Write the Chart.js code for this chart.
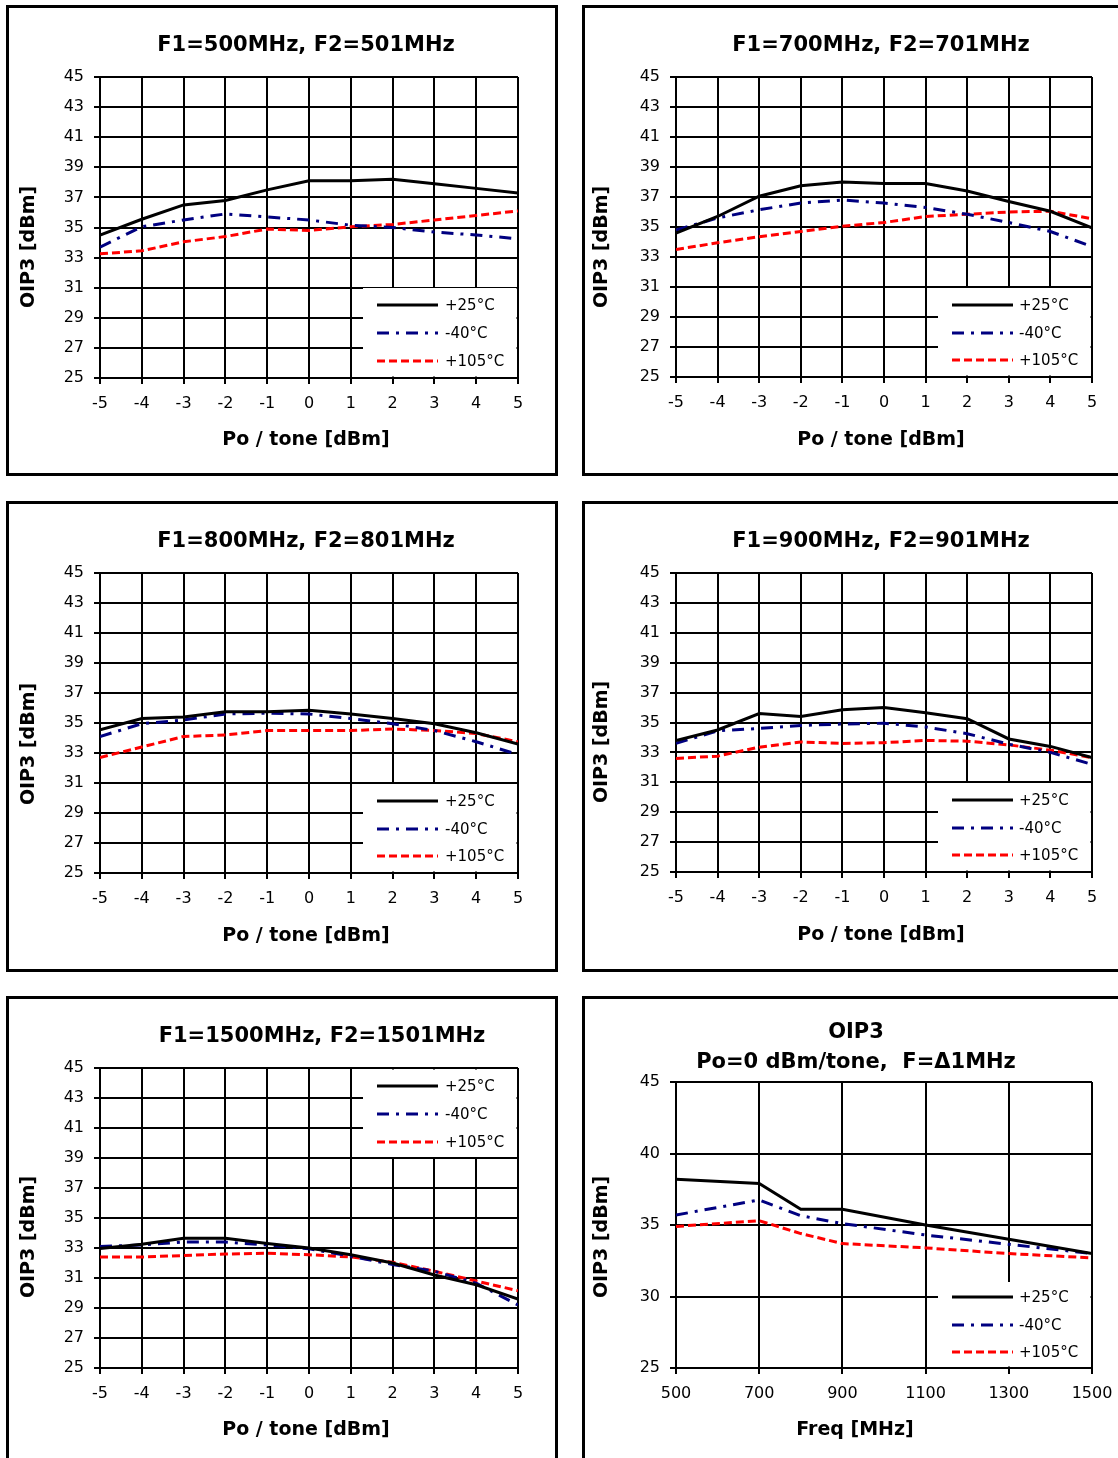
<!DOCTYPE html>
<html><head><meta charset="utf-8">
<script src="https://cdn.jsdelivr.net/npm/chart.js@4.4.0/dist/chart.umd.min.js"></script>
<style>
html,body{margin:0;padding:0;background:#fff;overflow:hidden;width:1118px;height:1458px;}
.panel{position:absolute;}
.panel canvas{position:absolute;left:0;top:0;}
.frame{position:absolute;left:0;top:0;right:0;bottom:0;border:3px solid #000;box-sizing:border-box;pointer-events:none;}
</style></head><body>
<script>
// ---------- DATA ----------
const poTone = [-5, -4, -3, -2, -1, 0, 1, 2, 3, 4, 5];
const freqMHz = [500, 700, 800, 900, 1100, 1300, 1500];
const tempLabels = ['+25°C', '-40°C', '+105°C'];

const yTicksPower = [25, 27, 29, 31, 33, 35, 37, 39, 41, 43, 45];
const xTicksPower = [-5, -4, -3, -2, -1, 0, 1, 2, 3, 4, 5];
const yTicksFreq = [25, 30, 35, 40, 45];
const xTicksFreq = [500, 700, 900, 1100, 1300, 1500];

const oip3_500_p25  = [34.5, 35.55, 36.5, 36.8, 37.5, 38.1, 38.1, 38.2, 37.9, 37.6, 37.3];
const oip3_500_m40  = [33.7, 35.05, 35.5, 35.9, 35.7, 35.5, 35.15, 35.0, 34.7, 34.5, 34.25];
const oip3_500_p105 = [33.25, 33.45, 34.05, 34.4, 34.9, 34.8, 35.05, 35.2, 35.5, 35.8, 36.1];

const oip3_700_p25  = [34.6, 35.7, 37.05, 37.75, 38.0, 37.9, 37.9, 37.4, 36.7, 36.05, 34.95];
const oip3_700_m40  = [34.8, 35.6, 36.15, 36.6, 36.8, 36.6, 36.3, 35.85, 35.3, 34.7, 33.7];
const oip3_700_p105 = [33.5, 33.95, 34.35, 34.7, 35.05, 35.3, 35.7, 35.85, 36.0, 36.05, 35.55];

const oip3_800_p25  = [34.55, 35.3, 35.4, 35.75, 35.75, 35.85, 35.6, 35.3, 34.95, 34.35, 33.6];
const oip3_800_m40  = [34.1, 34.95, 35.2, 35.6, 35.65, 35.6, 35.3, 34.95, 34.5, 33.75, 32.9];
const oip3_800_p105 = [32.7, 33.4, 34.1, 34.2, 34.5, 34.5, 34.5, 34.6, 34.5, 34.3, 33.75];

const oip3_900_p25  = [33.8, 34.5, 35.6, 35.4, 35.85, 36.0, 35.65, 35.25, 33.9, 33.4, 32.65];
const oip3_900_m40  = [33.6, 34.45, 34.6, 34.8, 34.9, 34.95, 34.7, 34.25, 33.55, 33.0, 32.2];
const oip3_900_p105 = [32.6, 32.75, 33.35, 33.7, 33.6, 33.65, 33.8, 33.75, 33.5, 33.15, 32.65];

const oip3_1500_p25  = [32.97, 33.25, 33.65, 33.65, 33.3, 33.0, 32.55, 32.0, 31.2, 30.55, 29.6];
const oip3_1500_m40  = [33.1, 33.2, 33.4, 33.4, 33.2, 32.95, 32.45, 31.9, 31.45, 30.65, 29.2];
const oip3_1500_p105 = [32.4, 32.4, 32.5, 32.6, 32.65, 32.55, 32.4, 32.05, 31.45, 30.8, 30.15];

const oip3_freq_p25  = [38.2, 37.9, 36.1, 36.1, 35.0, 34.0, 33.0];
const oip3_freq_m40  = [35.7, 36.75, 35.65, 35.1, 34.3, 33.65, 33.0];
const oip3_freq_p105 = [34.9, 35.3, 34.4, 33.7, 33.4, 33.0, 32.7];

// ---------- STYLE ----------
const seriesColors = ['#000000', '#000080', '#ff0000'];
const seriesDash = [[], [12, 7, 3, 7], [8, 4]];
const FONT = 'DejaVu Sans';

// page-coordinate layout of each panel
const panels = [
  { titles: [['F1=500MHz, F2=501MHz', 306, 46]], box: [6, 5, 552, 471], plot: [100, 77, 518, 378],
    x: poTone, series: [oip3_500_p25, oip3_500_m40, oip3_500_p105], xt: xTicksPower, yt: yTicksPower,
    xTitle: ['Po / tone [dBm]', 306, 440], yTitle: ['OIP3 [dBm]', 29, 247],
    legend: { box: [363, 288], lx: [377, 438], tx: 445, rows: [305, 333, 361] } },
  { titles: [['F1=700MHz, F2=701MHz', 881, 46]], box: [582, 5, 560, 471], plot: [676, 77, 1092, 377],
    x: poTone, series: [oip3_700_p25, oip3_700_m40, oip3_700_p105], xt: xTicksPower, yt: yTicksPower,
    xTitle: ['Po / tone [dBm]', 881, 440], yTitle: ['OIP3 [dBm]', 602, 247],
    legend: { box: [938, 288], lx: [952, 1013], tx: 1019, rows: [305, 333, 360] } },
  { titles: [['F1=800MHz, F2=801MHz', 306, 542]], box: [6, 501, 552, 471], plot: [100, 573, 518, 873],
    x: poTone, series: [oip3_800_p25, oip3_800_m40, oip3_800_p105], xt: xTicksPower, yt: yTicksPower,
    xTitle: ['Po / tone [dBm]', 306, 936], yTitle: ['OIP3 [dBm]', 29, 744],
    legend: { box: [363, 784], lx: [377, 438], tx: 445, rows: [801, 829, 856] } },
  { titles: [['F1=900MHz, F2=901MHz', 881, 542]], box: [582, 501, 560, 471], plot: [676, 573, 1092, 872],
    x: poTone, series: [oip3_900_p25, oip3_900_m40, oip3_900_p105], xt: xTicksPower, yt: yTicksPower,
    xTitle: ['Po / tone [dBm]', 881, 935], yTitle: ['OIP3 [dBm]', 602, 742],
    legend: { box: [938, 783], lx: [952, 1013], tx: 1019, rows: [800, 828, 855] } },
  { titles: [['F1=1500MHz, F2=1501MHz', 322, 1037]], box: [6, 996, 552, 480], plot: [100, 1068, 518, 1368],
    x: poTone, series: [oip3_1500_p25, oip3_1500_m40, oip3_1500_p105], xt: xTicksPower, yt: yTicksPower,
    xTitle: ['Po / tone [dBm]', 306, 1430], yTitle: ['OIP3 [dBm]', 29, 1237],
    legend: { box: [363, 1069, 1157], top: true, lx: [377, 438], tx: 445, rows: [1086, 1114, 1142] } },
  { titles: [['OIP3', 856, 1033], ['Po=0 dBm/tone,  F=\u03941MHz', 856, 1063]], box: [582, 996, 560, 480], plot: [676, 1082, 1092, 1368],
    x: freqMHz, series: [oip3_freq_p25, oip3_freq_m40, oip3_freq_p105], xt: xTicksFreq, yt: yTicksFreq,
    xTitle: ['Freq [MHz]', 855, 1430], yTitle: ['OIP3 [dBm]', 602, 1237],
    legend: { box: [938, 1282], lx: [952, 1013], tx: 1019, rows: [1297, 1325, 1352] } }
];

function makePanel(p) {
  const [ox, oy, w, h] = p.box;
  const wrap = document.createElement('div');
  wrap.className = 'panel';
  Object.assign(wrap.style, { left: ox + 'px', top: oy + 'px', width: w + 'px', height: h + 'px' });
  const cv = document.createElement('canvas');
  cv.width = w; cv.height = h;
  cv.style.width = w + 'px'; cv.style.height = h + 'px';
  const frame = document.createElement('div');
  frame.className = 'frame';
  wrap.appendChild(cv); wrap.appendChild(frame);
  document.body.appendChild(wrap);

  const decor = {
    id: 'decor',
    beforeDatasetsDraw(chart) {
      const ctx = chart.ctx, ca = chart.chartArea, L = p.legend;
      ctx.save();
      const x1 = L.box[0] - ox;
      let y1, y2;
      if (L.top) { y1 = ca.top + 1.5; y2 = L.box[2] - oy; }
      else { y1 = L.box[1] - oy; y2 = ca.bottom - 1.5; }
      ctx.fillStyle = '#fff';
      ctx.fillRect(x1, y1, ca.right - 1.5 - x1, y2 - y1);
      chart.data.datasets.forEach((ds, i) => {
        const yy = L.rows[i] - oy;
        ctx.beginPath();
        ctx.setLineDash(ds.borderDash || []);
        ctx.lineWidth = 3;
        ctx.strokeStyle = ds.borderColor;
        ctx.moveTo(L.lx[0] - ox, yy);
        ctx.lineTo(L.lx[1] - ox, yy);
        ctx.stroke();
        ctx.setLineDash([]);
        ctx.fillStyle = '#000';
        ctx.font = '15px "' + FONT + '"';
        ctx.textAlign = 'left';
        ctx.textBaseline = 'middle';
        ctx.fillText(ds.label, L.tx - ox, yy + 1);
      });
      ctx.restore();
    },
    afterDraw(chart) {
      const ctx = chart.ctx;
      ctx.save();
      ctx.fillStyle = '#000';
      ctx.textAlign = 'center';
      ctx.textBaseline = 'middle';
      ctx.font = 'bold 21px "' + FONT + '"';
      p.titles.forEach(t => ctx.fillText(t[0], t[1] - ox, t[2] - oy));
      ctx.font = 'bold 19px "' + FONT + '"';
      ctx.fillText(p.xTitle[0], p.xTitle[1] - ox, p.xTitle[2] - oy);
      ctx.translate(p.yTitle[1] - ox, p.yTitle[2] - oy);
      ctx.rotate(-Math.PI / 2);
      ctx.fillText(p.yTitle[0], 0, 0);
      ctx.restore();
    }
  };

  const xAxisH = h - (p.plot[3] - oy);
  const yAxisW = p.plot[0] - ox;
  const gridOpts = { color: '#000', lineWidth: 2, tickLength: 6, tickColor: '#000', tickWidth: 2, drawTicks: true };
  const borderOpts = { color: '#000', width: 2 };

  new Chart(cv, {
    type: 'line',
    data: {
      datasets: p.series.map((s, i) => ({
        label: tempLabels[i],
        data: p.x.map((xv, j) => ({ x: xv, y: s[j] })),
        borderColor: seriesColors[i],
        borderWidth: 3,
        borderDash: seriesDash[i],
        pointRadius: 0,
        tension: 0,
        fill: false
      }))
    },
    options: {
      responsive: false,
      animation: false,
      devicePixelRatio: 1,
      layout: { padding: { left: 0, top: p.plot[1] - oy, right: w - (p.plot[2] - ox), bottom: 0 } },
      plugins: { legend: { display: false }, title: { display: false }, tooltip: { enabled: false } },
      scales: {
        x: {
          type: 'linear', min: p.xt[0], max: p.xt[p.xt.length - 1],
          afterBuildTicks: s => { s.ticks = p.xt.map(v => ({ value: v })); },
          afterFit: s => { s.height = xAxisH; },
          grid: gridOpts, border: borderOpts,
          ticks: { color: '#000', font: { family: FONT, size: 16 }, padding: 10, autoSkip: false, maxRotation: 0,
                   callback: v => String(v) }
        },
        y: {
          type: 'linear', min: p.yt[0], max: p.yt[p.yt.length - 1],
          afterBuildTicks: s => { s.ticks = p.yt.map(v => ({ value: v })); },
          afterFit: s => { s.width = yAxisW; },
          grid: gridOpts, border: borderOpts,
          ticks: { color: '#000', font: { family: FONT, size: 16 }, padding: 10, autoSkip: false,
                   callback: v => String(v) }
        }
      }
    },
    plugins: [decor]
  });
}

panels.forEach(makePanel);
</script>
</body></html>
